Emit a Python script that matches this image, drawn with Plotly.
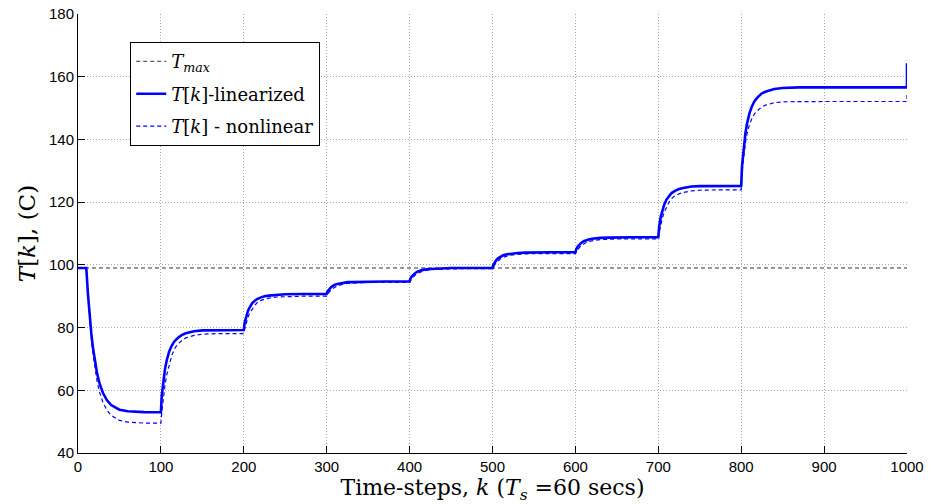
import plotly.graph_objects as go

# ---- data ----
T_MAX = 99.0

# first segment: constant, then decay starting at k=10
k_seg0 = [0, 10, 12, 14, 16, 18, 20, 23, 26, 30, 35, 40, 50, 60, 80, 100]
lin_seg0 = [99.0, 99.0, 90.7, 83.8, 78.3, 73.7, 70.0, 65.4, 62.2, 59.2, 56.8, 55.3, 53.8, 53.3, 53.05, 53.0]
non_seg0 = [99.0, 99.0, 90.1, 82.7, 76.7, 71.8, 67.8, 62.9, 59.4, 56.2, 53.6, 52.0, 50.4, 49.85, 49.55, 49.5]

# step segments starting at k = 100, 200, ..., 800
seg_starts = [100, 200, 300, 400, 500, 600, 700, 800]
seg_offsets = [1, 3, 5, 7, 10, 13, 16, 20, 25, 30, 40, 50, 70, 100]

lin_steps = [
    [58.2, 63.5, 66.9, 69.5, 72.4, 74.2, 75.5, 76.6, 77.6, 78.2, 78.8, 79.1, 79.2, 79.2],
    [81.5, 83.8, 85.3, 86.4, 87.7, 88.5, 89.1, 89.55, 90.0, 90.2, 90.5, 90.65, 90.7, 90.7],
    [91.5, 92.3, 92.8, 93.2, 93.7, 93.9, 94.1, 94.3, 94.5, 94.5, 94.6, 94.7, 94.7, 94.7],
    [95.6, 96.4, 97.0, 97.4, 97.9, 98.2, 98.4, 98.6, 98.7, 98.8, 98.9, 99.0, 99.0, 99.0],
    [100.0, 101.0, 101.65, 102.15, 102.7, 103.05, 103.3, 103.5, 103.7, 103.8, 103.9, 104.0, 104.0, 104.0],
    [105.0, 105.9, 106.5, 107.0, 107.55, 107.9, 108.1, 108.3, 108.5, 108.6, 108.7, 108.8, 108.8, 108.8],
    [112.1, 115.4, 117.5, 119.1, 120.9, 122.1, 122.9, 123.6, 124.2, 124.5, 125.0, 125.1, 125.2, 125.2],
    [131.5, 137.8, 141.8, 145.0, 148.4, 150.6, 152.2, 153.5, 154.7, 155.3, 156.1, 156.4, 156.6, 156.6],
]
non_steps = [
    [52.9, 58.1, 61.8, 64.9, 68.4, 71.0, 73.0, 74.7, 75.8, 76.7, 77.5, 77.9, 78.1, 78.1],
    [79.5, 81.7, 83.2, 84.5, 86.0, 87.0, 87.9, 88.6, 89.05, 89.4, 89.75, 89.9, 90.0, 90.0],
    [90.5, 91.3, 91.9, 92.4, 92.9, 93.3, 93.6, 93.9, 94.05, 94.2, 94.3, 94.4, 94.4, 94.4],
    [94.9, 95.7, 96.3, 96.8, 97.3, 97.7, 98.0, 98.3, 98.45, 98.6, 98.7, 98.8, 98.8, 98.8],
    [99.4, 100.2, 100.9, 101.4, 102.0, 102.4, 102.7, 103.0, 103.2, 103.35, 103.5, 103.55, 103.6, 103.6],
    [104.2, 105.0, 105.6, 106.1, 106.7, 107.1, 107.45, 107.7, 107.9, 108.05, 108.2, 108.25, 108.3, 108.3],
    [110.2, 113.0, 115.0, 116.7, 118.6, 120.0, 121.1, 122.0, 122.65, 123.1, 123.6, 123.8, 123.9, 123.9],
    [129.5, 135.2, 138.85, 141.7, 144.8, 146.7, 148.15, 149.3, 150.4, 151.0, 151.7, 152.0, 152.1, 152.1],
]

# final point at k = 1000 (value before and after the last jump)
k_end = [1000, 1000]
lin_end = [156.6, 164.3]
non_end = [152.1, 154.8]

x_ticks = [0, 100, 200, 300, 400, 500, 600, 700, 800, 900, 1000]
y_ticks = [40, 60, 80, 100, 120, 140, 160, 180]

# ---- assemble series ----
k_all = list(k_seg0)
lin_all = list(lin_seg0)
non_all = list(non_seg0)
for s, lv, nv in zip(seg_starts, lin_steps, non_steps):
    for off, a, b in zip(seg_offsets, lv, nv):
        k_all.append(s + off)
        lin_all.append(a)
        non_all.append(b)
k_all_l = k_all + k_end
lin_all += lin_end
non_all += non_end

SERIF = "DejaVu Serif, Liberation Serif, serif"

fig = go.Figure()
fig.add_trace(go.Scatter(
    x=[0, 1000], y=[T_MAX, T_MAX], mode="lines",
    name="<i>T</i><sub><i>max</i></sub>", legendgroup="a",
    line=dict(color="#333333", width=1, dash="4px,3px"),
))
fig.add_trace(go.Scatter(
    x=k_all_l, y=lin_all, mode="lines",
    name="<i>T</i>[<i>k</i>]-linearized", legendgroup="b",
    line=dict(color="#0000ff", width=2.6),
))
fig.add_trace(go.Scatter(
    x=k_all_l, y=non_all, mode="lines",
    name="<i>T</i>[<i>k</i>] - nonlinear", legendgroup="c",
    line=dict(color="#0000ff", width=1.2, dash="4px,3px"),
))

axis_common = dict(
    showline=True, linecolor="black", linewidth=1,
    ticks="inside", ticklen=7, tickcolor="black", tickwidth=1,
    showgrid=True, gridcolor="#a8a8a8", gridwidth=1, griddash="1px,2px",
    zeroline=False, mirror=False,
    tickfont=dict(family="Liberation Sans, Arial, sans-serif", size=15, color="black"),
)

fig.update_layout(
    width=933, height=504,
    margin=dict(l=78, r=26, t=14, b=51),
    paper_bgcolor="white", plot_bgcolor="white",
    showlegend=True,
    legend=dict(
        x=0.063, y=0.936, xanchor="left", yanchor="top",
        bgcolor="white", bordercolor="black", borderwidth=1,
        font=dict(family=SERIF, size=18, color="black"),
        traceorder="grouped", tracegroupgap=6,
    ),
    xaxis=dict(
        range=[0, 1000], tickvals=x_ticks, ticktext=[str(v) for v in x_ticks],
        title=dict(text="Time-steps, <i>k</i> (<i>T</i><sub><i>s</i></sub> =60 secs)",
                   font=dict(family=SERIF, size=22, color="black"),
                   standoff=0),
        automargin=False,
        **axis_common,
    ),
    yaxis=dict(
        range=[40, 180], tickvals=y_ticks, ticktext=[str(v) for v in y_ticks],
        title=dict(text="<i>T</i>[<i>k</i>],&nbsp;(C)",
                   font=dict(family=SERIF, size=23, color="black"),
                   standoff=6),
        automargin=False,
        **axis_common,
    ),
)

fig.write_html("out.html", config={"displayModeBar": False},
               post_script="document.body.style.margin='0';")
